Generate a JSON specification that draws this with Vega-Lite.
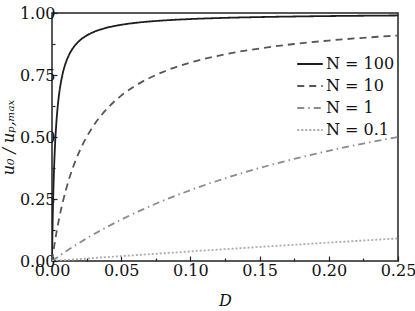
{
"$schema": "https://vega.github.io/schema/vega-lite/v6.json",
"width": 346, "height": 248,
"autosize": {"type": "none"},
"padding": {"left": 52, "top": 13, "right": 17, "bottom": 50},
"background": "white",
"config": {
  "view": {"stroke": "#222", "strokeWidth": 1.5},
  "font": "DejaVu Serif",
  "axis": {"grid": false, "domain": false, "tickColor": "#222", "tickWidth": 1.2, "labelColor": "#111", "labelFontSize": 16, "titleFontSize": 16, "titleFontWeight": "normal", "titleColor": "#111"}
},
"data": {"values": [
{"N":"N = 100","D":0,"u":0},{"N":"N = 100","D":0.0005,"u":0.1667},{"N":"N = 100","D":0.001,"u":0.2857},{"N":"N = 100","D":0.002,"u":0.4444},{"N":"N = 100","D":0.003,"u":0.5455},{"N":"N = 100","D":0.004,"u":0.6154},{"N":"N = 100","D":0.005,"u":0.6667},{"N":"N = 100","D":0.0075,"u":0.75},{"N":"N = 100","D":0.01,"u":0.8},{"N":"N = 100","D":0.0125,"u":0.8333},{"N":"N = 100","D":0.015,"u":0.8571},{"N":"N = 100","D":0.02,"u":0.8889},{"N":"N = 100","D":0.025,"u":0.9091},{"N":"N = 100","D":0.03,"u":0.9231},{"N":"N = 100","D":0.04,"u":0.9412},{"N":"N = 100","D":0.05,"u":0.9524},{"N":"N = 100","D":0.06,"u":0.96},{"N":"N = 100","D":0.08,"u":0.9697},{"N":"N = 100","D":0.1,"u":0.9756},{"N":"N = 100","D":0.125,"u":0.9804},{"N":"N = 100","D":0.15,"u":0.9836},{"N":"N = 100","D":0.175,"u":0.9859},{"N":"N = 100","D":0.2,"u":0.9877},{"N":"N = 100","D":0.225,"u":0.989},{"N":"N = 100","D":0.25,"u":0.9901},
{"N":"N = 10","D":0,"u":0},{"N":"N = 10","D":0.0005,"u":0.0196},{"N":"N = 10","D":0.001,"u":0.0385},{"N":"N = 10","D":0.002,"u":0.0741},{"N":"N = 10","D":0.003,"u":0.1071},{"N":"N = 10","D":0.004,"u":0.1379},{"N":"N = 10","D":0.005,"u":0.1667},{"N":"N = 10","D":0.0075,"u":0.2308},{"N":"N = 10","D":0.01,"u":0.2857},{"N":"N = 10","D":0.0125,"u":0.3333},{"N":"N = 10","D":0.015,"u":0.375},{"N":"N = 10","D":0.02,"u":0.4444},{"N":"N = 10","D":0.025,"u":0.5},{"N":"N = 10","D":0.03,"u":0.5455},{"N":"N = 10","D":0.04,"u":0.6154},{"N":"N = 10","D":0.05,"u":0.6667},{"N":"N = 10","D":0.06,"u":0.7059},{"N":"N = 10","D":0.08,"u":0.7619},{"N":"N = 10","D":0.1,"u":0.8},{"N":"N = 10","D":0.125,"u":0.8333},{"N":"N = 10","D":0.15,"u":0.8571},{"N":"N = 10","D":0.175,"u":0.875},{"N":"N = 10","D":0.2,"u":0.8889},{"N":"N = 10","D":0.225,"u":0.9},{"N":"N = 10","D":0.25,"u":0.9091},
{"N":"N = 1","D":0,"u":0},{"N":"N = 1","D":0.01,"u":0.0385},{"N":"N = 1","D":0.025,"u":0.0909},{"N":"N = 1","D":0.05,"u":0.1667},{"N":"N = 1","D":0.075,"u":0.2308},{"N":"N = 1","D":0.1,"u":0.2857},{"N":"N = 1","D":0.125,"u":0.3333},{"N":"N = 1","D":0.15,"u":0.375},{"N":"N = 1","D":0.175,"u":0.4118},{"N":"N = 1","D":0.2,"u":0.4444},{"N":"N = 1","D":0.225,"u":0.4737},{"N":"N = 1","D":0.25,"u":0.5},
{"N":"N = 0.1","D":0,"u":0},{"N":"N = 0.1","D":0.025,"u":0.0099},{"N":"N = 0.1","D":0.05,"u":0.0196},{"N":"N = 0.1","D":0.075,"u":0.0291},{"N":"N = 0.1","D":0.1,"u":0.0385},{"N":"N = 0.1","D":0.125,"u":0.0476},{"N":"N = 0.1","D":0.15,"u":0.0566},{"N":"N = 0.1","D":0.175,"u":0.0654},{"N":"N = 0.1","D":0.2,"u":0.0741},{"N":"N = 0.1","D":0.225,"u":0.0826},{"N":"N = 0.1","D":0.25,"u":0.0909}
]},
"mark": {"type": "line", "strokeWidth": 1.8, "clip": true, "interpolate": "monotone"},
"encoding": {
  "x": {"field": "D", "type": "quantitative", "scale": {"domain": [0, 0.25], "nice": false, "zero": false},
    "axis": {"title": "D", "titleFontStyle": "italic", "titlePadding": 12, "labelPadding": 6,
      "values": [0,0.025,0.05,0.075,0.1,0.125,0.15,0.175,0.2,0.225,0.25],
      "labelExpr": "round(datum.value*40)%2==0 ? format(datum.value,'.2f') : ''",
      "labelFlush": false, "labelOverlap": false,
      "tickSize": {"condition": {"test": "round(datum.value*40)%2==1", "value": -3}, "value": -5}}},
  "y": {"field": "u", "type": "quantitative", "scale": {"domain": [0, 1], "nice": false},
    "axis": {"title": "u₀ / uₚ,ₘₐₓ", "titleFontStyle": "italic", "titlePadding": 3, "labelPadding": 2,
      "values": [0,0.125,0.25,0.375,0.5,0.625,0.75,0.875,1],
      "labelExpr": "round(datum.value*8)%2==0 ? format(datum.value,'.2f') : ''",
      "labelFlush": false, "labelOverlap": false,
      "tickSize": {"condition": {"test": "round(datum.value*8)%2==1", "value": -3}, "value": -5}}},
  "color": {"field": "N", "type": "nominal",
    "scale": {"domain": ["N = 100","N = 10","N = 1","N = 0.1"], "range": ["#1e1e1e","#575757","#8c8c8c","#ababab"]},
    "legend": {"title": null, "orient": "none", "legendX": 244, "legendY": 37, "symbolType": "stroke", "symbolSize": 650, "symbolStrokeWidth": 1.8, "labelFontSize": 16, "labelColor": "#111", "rowPadding": -7.5, "labelOffset": 2, "padding": 0}},
  "strokeDash": {"field": "N", "type": "nominal",
    "scale": {"domain": ["N = 100","N = 10","N = 1","N = 0.1"], "range": [[1,0],[7,5],[7,4,1.5,4],[2,2]]},
    "legend": {"title": null, "orient": "none", "legendX": 244, "legendY": 37, "symbolType": "stroke", "symbolSize": 650, "symbolStrokeWidth": 1.8, "labelFontSize": 16, "labelColor": "#111", "rowPadding": -7.5, "labelOffset": 2, "padding": 0}}
}
}
